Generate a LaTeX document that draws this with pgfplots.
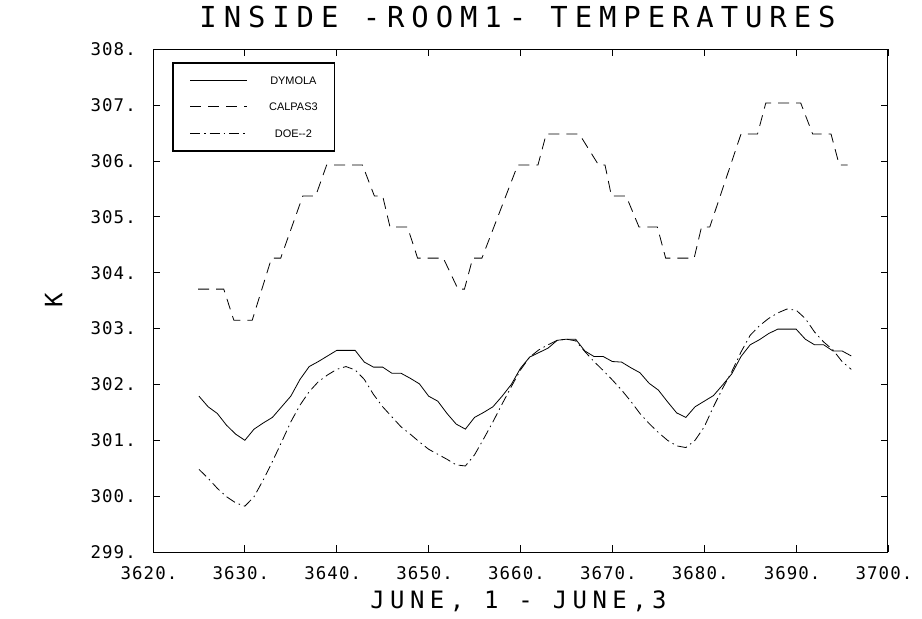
\documentclass[border=0pt]{standalone}
\usepackage{pgfplots}
\pgfplotsset{compat=1.18}
\usepackage{fontspec}
\newfontfamily\hersheyT{DejaVu Sans Mono}[LetterSpace=24]
\newfontfamily\hersheyL{DejaVu Sans Mono}[LetterSpace=23]
\newfontfamily\hersheyS{DejaVu Sans Mono}[LetterSpace=6]
\newfontfamily\arial{Liberation Sans}
\begin{document}
\begin{tikzpicture}
\begin{axis}[
  at={(153bp,67bp)}, anchor=south west,
  scale only axis, width=735bp, height=502.7bp,
  xmin=3620, xmax=3700, ymin=299, ymax=308,
  xtick={3620,3630,...,3700}, ytick={299,300,...,308},
  tick pos=both, tick align=inside, major tick length=7bp,
  axis line style={line width=1bp},
  every tick/.style={black, line width=0.8bp},
  /pgf/number format/.cd, fixed, precision=0, 1000 sep={}, assume math mode=true,
  /pgfplots/.cd,
  xticklabel={\pgfmathprintnumber{\tick}.},
  yticklabel={\pgfmathprintnumber{\tick}.},
  xticklabel style={font=\hersheyS\fontsize{17.5}{18}\selectfont, inner sep=0pt, anchor=north, yshift=-14bp, xshift=-4bp},
  yticklabel style={font=\hersheyS\fontsize{17.5}{18}\selectfont, inner sep=0pt, anchor=east, xshift=-17bp},
  title={INSIDE -ROOM1- TEMPERATURES},
  title style={font=\hersheyT\fontsize{29}{29}\selectfont, at={(0.5,1)}, anchor=center, yshift=26bp, xshift=-3bp, inner sep=0pt},
  xlabel={JUNE, 1 - JUNE,3},
  xlabel style={font=\hersheyL\fontsize{24}{24}\selectfont, at={(0.5,0)}, anchor=center, yshift=-49bp, xshift=-2bp, inner sep=0pt},
  ylabel={K},
  ylabel style={font=\hersheyL\fontsize{24}{24}\selectfont, at={(axis description cs:-0.135,0.5)}, anchor=center, inner sep=0pt},
  legend style={at={(0,1)}, anchor=north west, xshift=19bp, yshift=-12.7bp,
    draw=black, line width=1.5bp, inner xsep=17bp, inner ysep=13.5bp,
    row sep=18.5bp, column sep=22bp,
    nodes={inner sep=0pt, text height=8bp, text depth=0bp},
    font=\arial\fontsize{11}{13}\selectfont},
  legend cell align=center,
  legend image code/.code={\draw[#1] (0bp,0.3bp) -- (56.6bp,0.3bp);},
]
\addplot[black, line width=0.8bp] coordinates {
(3625,301.79) (3626,301.60) (3627,301.48) (3628,301.27) (3629,301.11) (3630,301.00)
(3631,301.20) (3632,301.31) (3633,301.41) (3634,301.60) (3635,301.79) (3636,302.09)
(3637,302.32) (3638,302.41) (3639,302.51) (3640,302.61) (3641,302.61) (3642,302.61)
(3643,302.40) (3644,302.31) (3645,302.31) (3646,302.20) (3647,302.20) (3648,302.11)
(3649,302.01) (3650,301.79) (3651,301.70) (3652,301.48) (3653,301.29) (3654,301.20)
(3655,301.41) (3656,301.50) (3657,301.60) (3658,301.79) (3659,302.00) (3660,302.29)
(3661,302.49) (3662,302.57) (3663,302.65) (3664,302.79) (3665,302.81) (3666,302.81)
(3667,302.60) (3668,302.50) (3669,302.50) (3670,302.41) (3671,302.40) (3672,302.30)
(3673,302.21) (3674,302.02) (3675,301.90) (3676,301.69) (3677,301.49) (3678,301.41)
(3679,301.60) (3680,301.70) (3681,301.80) (3682,301.99) (3683,302.19) (3684,302.50)
(3685,302.71) (3686,302.80) (3687,302.91) (3688,302.99) (3689,302.99) (3690,302.99)
(3691,302.81) (3692,302.71) (3693,302.71) (3694,302.60) (3695,302.60) (3696,302.51)
};
\addlegendentry{DYMOLA}
\addplot[black, line width=0.8bp, dash pattern=on 11bp off 7bp] coordinates {
(3624.9,303.706) (3627.7,303.706) (3628.8,303.150) (3630.8,303.150) (3632.9,304.261)
(3633.9,304.261) (3636.3,305.372) (3637.7,305.372) (3638.9,305.928) (3642.8,305.928)
(3644.1,305.372) (3645.0,305.372) (3645.8,304.817) (3647.7,304.817) (3648.8,304.261)
(3651.6,304.261) (3653.2,303.706) (3653.9,303.706) (3654.8,304.261) (3655.8,304.261)
(3659.7,305.928) (3661.9,305.928) (3662.8,306.483) (3666.4,306.483) (3668.5,305.928)
(3669.2,305.928) (3669.9,305.372) (3671.5,305.372) (3672.9,304.817) (3674.9,304.817)
(3675.8,304.261) (3678.9,304.261) (3679.7,304.817) (3680.6,304.817) (3684.0,306.483)
(3685.8,306.483) (3686.7,307.039) (3690.5,307.039) (3691.8,306.483) (3693.8,306.483)
(3694.7,305.928) (3695.6,305.928)
};
\addlegendentry{CALPAS3}
\addplot[black, line width=0.8bp, dash pattern=on 10bp off 4bp on 1.5bp off 4bp] coordinates {
(3625,300.48) (3626,300.32) (3627,300.14) (3628,299.99) (3629,299.88) (3630,299.82)
(3631,299.99) (3632,300.29) (3633,300.62) (3634,300.97) (3635,301.33) (3636,301.63)
(3637,301.87) (3638,302.05) (3639,302.17) (3640,302.27) (3641,302.32) (3642,302.26)
(3643,302.09) (3644,301.82) (3645,301.60) (3646,301.42) (3647,301.24) (3648,301.11)
(3649,300.97) (3650,300.84) (3651,300.75) (3652,300.66) (3653,300.56) (3654,300.54)
(3655,300.74) (3656,301.03) (3657,301.33) (3658,301.65) (3659,301.96) (3660,302.26)
(3661,302.49) (3662,302.62) (3663,302.71) (3664,302.79) (3665,302.81) (3666,302.78)
(3667,302.59) (3668,302.41) (3669,302.25) (3670,302.08) (3671,301.90) (3672,301.70)
(3673,301.48) (3674,301.30) (3675,301.14) (3676,301.00) (3677,300.90) (3678,300.87)
(3679,301.00) (3680,301.24) (3681,301.60) (3682,301.93) (3683,302.23) (3684,302.58)
(3685,302.88) (3686,303.05) (3687,303.18) (3688,303.28) (3689,303.35) (3690,303.33)
(3691,303.18) (3692,302.94) (3693,302.76) (3694,302.62) (3695,302.41) (3696,302.27)
};
\addlegendentry{DOE--2}
\end{axis}
\pgfresetboundingbox
\path[use as bounding box] (0,0) rectangle (922bp,619bp);
\end{tikzpicture}
\end{document}
